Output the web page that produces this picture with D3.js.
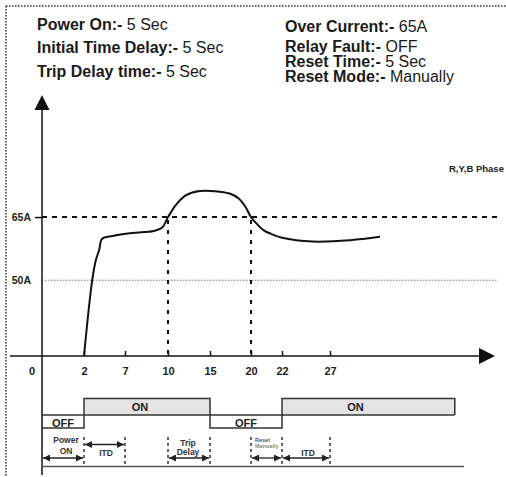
<!DOCTYPE html>
<html><head><meta charset="utf-8">
<script src="https://cdn.jsdelivr.net/npm/d3@7"></script>
<style>
html,body{margin:0;padding:0;background:#fff;}
svg{display:block;font-family:"Liberation Sans",Arial,sans-serif;}
</style></head>
<body><svg id="c" width="506" height="477"></svg>
<script>
// ---------- data ----------
const headerLeft = [["Power On:-", " 5 Sec"], ["Initial Time Delay:-", " 5 Sec"], ["Trip Delay time:-", " 5 Sec"]];
const headerRight = [["Over Current:-", " 65A"], ["Relay Fault:-", " OFF"], ["Reset Time:-", " 5 Sec"], ["Reset Mode:-", " Manually"]];
const timeTicks = [0, 2, 7, 10, 15, 20, 22, 27];
const ampTicks = [65, 50];
const overCurrent = 65;
const curveTime = [2, 3, 3.45, 3.85, 4.2, 5.5, 7.5, 9, 9.6, 10, 10.95, 12.15, 13.8, 17.4, 18.5, 19.3, 20, 20.4, 20.8, 21.3, 22, 25.2, 29.1, 32.2];
const curveAmp  = [32, 50, 54.8, 57.2, 59.8, 60.5, 61.2, 61.7, 62.5, 65, 67.9, 70.2, 71.2, 70.6, 69.4, 67.5, 65, 63.3, 61.9, 61.0, 60.1, 59.2, 59.5, 60.3];
const crossTimes = [10, 20];
const relayFrom  = [0, 2, 15, 22];
const relayTo    = [2, 15, 22, 40];
const relayState = ["OFF", "ON", "OFF", "ON"];
const phaseLabel = "R,Y,B Phase";
const spanFrom  = [0, 2, 10, 20, 22];
const spanTo    = [2, 7, 15, 22, 27];
const spanLabel = [["Power", "ON"], ["ITD"], ["Trip", "Delay"], ["Reset", "Manually"], ["ITD"]];
const markerTimes = [2, 7, 10, 15, 20, 22, 27];

// ---------- layout ----------
const tickPx = [42, 84, 125, 168, 210, 251, 282, 330];
const x = d3.scaleLinear().domain(timeTicks).range(tickPx);
const y = d3.scaleLinear().domain([32, 94]).range([356, 95]);
const axisY = y(32), axisX = x(0);
const svg = d3.select("#c");
const ink = "#111";

// frame
svg.append("line").attr("x1", 6).attr("y1", 6).attr("x2", 506).attr("y2", 6)
  .attr("stroke", "#333").attr("stroke-width", 1.5).attr("stroke-dasharray", "1.5,1.5");
svg.append("line").attr("x1", 6).attr("y1", 6).attr("x2", 6).attr("y2", 477)
  .attr("stroke", "#333").attr("stroke-width", 1.5).attr("stroke-dasharray", "1.5,1.5");

// headers
function header(rows, x0, baselines) {
  rows.forEach((r, i) => {
    const t = svg.append("text").attr("x", x0).attr("y", baselines[i])
      .attr("font-size", 16).attr("fill", "#1a1a1a");
    t.append("tspan").attr("font-weight", "bold").text(r[0]);
    t.append("tspan").text(r[1]);
  });
}
header(headerLeft, 37, [30, 53, 76.5]);
header(headerRight, 285, [32, 52, 67, 82]);

// reference lines
svg.append("line").attr("x1", axisX).attr("x2", 497).attr("y1", y(overCurrent)).attr("y2", y(overCurrent))
  .attr("stroke", ink).attr("stroke-width", 2).attr("stroke-dasharray", "5,5");
svg.append("line").attr("x1", axisX).attr("x2", 497).attr("y1", y(50)).attr("y2", y(50))
  .attr("stroke", "#777").attr("stroke-width", 1).attr("stroke-dasharray", "1.5,1.5");
crossTimes.forEach(t => {
  svg.append("line").attr("x1", x(t)).attr("x2", x(t)).attr("y1", y(overCurrent) + 3).attr("y2", axisY)
    .attr("stroke", ink).attr("stroke-width", 2).attr("stroke-dasharray", "4,6");
});

// axes lines + arrows
svg.append("line").attr("x1", axisX).attr("x2", axisX).attr("y1", 108).attr("y2", 475)
  .attr("stroke", ink).attr("stroke-width", 1.5);
svg.append("path").attr("d", `M${axisX},95 L${axisX - 7.5},110 L${axisX + 7.5},110 Z`).attr("fill", ink);
svg.append("line").attr("x1", 10).attr("x2", 482).attr("y1", axisY).attr("y2", axisY)
  .attr("stroke", ink).attr("stroke-width", 1.5);
svg.append("path").attr("d", `M495,${axisY} L479,${axisY - 8} L479,${axisY + 8} Z`).attr("fill", ink);

// x axis ticks
const gx = svg.append("g").attr("transform", `translate(0,${axisY})`)
  .call(d3.axisBottom(x).tickValues(timeTicks.slice(1)).tickSize(-5).tickPadding(11));
gx.select(".domain").remove();
gx.selectAll(".tick line").attr("stroke", ink).attr("stroke-width", 1.5);
gx.selectAll(".tick text").attr("font-size", 11).attr("font-weight", "bold").attr("fill", "#222")
  .attr("font-family", "'Liberation Sans',Arial,sans-serif");
svg.append("text").attr("x", axisX - 10).attr("y", axisY + 19).attr("text-anchor", "middle")
  .attr("font-size", 11).attr("font-weight", "bold").attr("fill", "#222").text(timeTicks[0]);

// y axis ticks
const gy = svg.append("g").attr("transform", `translate(${axisX},0)`)
  .call(d3.axisLeft(y).tickValues(ampTicks).tickSize(7).tickPadding(4).tickFormat(d => d + "A"));
gy.select(".domain").remove();
gy.selectAll(".tick line").attr("stroke", ink).attr("stroke-width", 1.5)
  .attr("display", d => d === overCurrent ? null : "none");
gy.selectAll(".tick text").attr("font-size", 10.5).attr("font-weight", "bold").attr("fill", "#222")
  .attr("font-family", "'Liberation Sans',Arial,sans-serif").attr("x", -11);

// phase label
svg.append("text").attr("x", 449).attr("y", 172).attr("font-size", 9.5).attr("font-weight", "bold")
  .attr("fill", "#222").text(phaseLabel);

// current curve
const pts = curveTime.map((t, i) => [t, curveAmp[i]]);
svg.append("path").datum(pts)
  .attr("d", d3.line().x(d => x(d[0])).y(d => y(d[1])).curve(d3.curveCatmullRom.alpha(0.5)))
  .attr("fill", "none").attr("stroke", ink).attr("stroke-width", 2).attr("stroke-linejoin", "round");

// relay waveform
const hiY = 398.5, midY = 415, loY = 428;
relayState.forEach((s, i) => {
  if (s === "ON") {
    svg.append("rect").attr("x", x(relayFrom[i])).attr("y", hiY)
      .attr("width", x(relayTo[i]) - x(relayFrom[i])).attr("height", midY - hiY).attr("fill", "#e4e4e4");
  }
});
svg.append("line").attr("x1", x(0)).attr("x2", x(relayTo[3])).attr("y1", midY).attr("y2", midY)
  .attr("stroke", "#333").attr("stroke-width", 1.5);
const wave = [];
relayState.forEach((s, i) => {
  const yy = s === "ON" ? hiY : loY;
  wave.push([x(relayFrom[i]), yy], [x(relayTo[i]), yy]);
});
wave.push([x(relayTo[3]), midY]);
svg.append("path").attr("d", d3.line()(wave)).attr("fill", "none").attr("stroke", "#333").attr("stroke-width", 1.5);
const onShift = [0, -7, 0, -13];
relayState.forEach((s, i) => {
  const cx = (x(relayFrom[i]) + x(relayTo[i])) / 2 + onShift[i];
  svg.append("text").attr("x", cx).attr("y", s === "ON" ? 410.5 : 426.5).attr("text-anchor", "middle")
    .attr("font-size", 11).attr("font-weight", "bold").attr("fill", "#222").text(s);
});

// timing annotations
const defs = svg.append("defs");
["s", "e"].forEach(k => {
  defs.append("marker").attr("id", "ar" + k).attr("viewBox", "0 0 10 10")
    .attr("refX", k === "e" ? 10 : 0).attr("refY", 5).attr("markerWidth", 8).attr("markerHeight", 7)
    .attr("markerUnits", "userSpaceOnUse").attr("orient", "auto")
    .append("path").attr("d", k === "e" ? "M0,0 L10,5 L0,10 Z" : "M10,0 L0,5 L10,10 Z").attr("fill", "#222");
});
markerTimes.forEach(t => {
  svg.append("line").attr("x1", x(t)).attr("x2", x(t)).attr("y1", 437).attr("y2", 466)
    .attr("stroke", "#333").attr("stroke-width", 1.5).attr("stroke-dasharray", "3,3");
});
svg.append("line").attr("x1", x(0)).attr("x2", 464).attr("y1", 466.5).attr("y2", 466.5)
  .attr("stroke", "#555").attr("stroke-width", 1.5);
const arrowY = [458, 444.5, 458, 458, 458];
const lblBase = [[443, 454], [456], [446, 455], [442, 448], [456]];
const lblDx = [3, 1.5, -1, 0, 2];
spanLabel.forEach((lab, i) => {
  const x1 = x(spanFrom[i]), x2 = x(spanTo[i]);
  svg.append("line").attr("x1", x1 + 1).attr("x2", x2 - 1).attr("y1", arrowY[i]).attr("y2", arrowY[i])
    .attr("stroke", "#222").attr("stroke-width", 1.3)
    .attr("marker-start", "url(#ars)").attr("marker-end", "url(#are)");
  const tiny = lab[0] === "Reset";
  lab.forEach((w, j) => {
    svg.append("text")
      .attr("x", tiny ? x1 + 4 : (x1 + x2) / 2 + lblDx[i])
      .attr("y", lblBase[i][j]).attr("text-anchor", tiny ? "start" : "middle")
      .attr("font-size", tiny ? 5.5 : 8.5).attr("font-weight", "bold")
      .attr("fill", tiny ? (j === 0 ? "#555" : "#888") : "#333").text(w);
  });
});
</script></body></html>
